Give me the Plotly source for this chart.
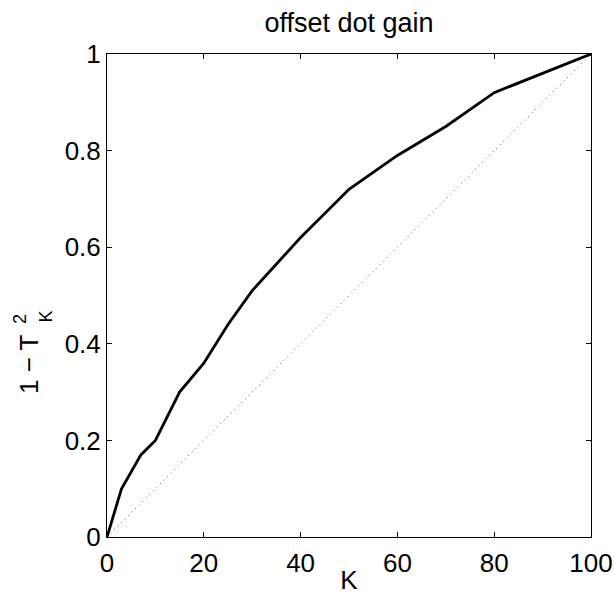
import plotly.graph_objects as go

# data
K = [0, 3, 7, 10, 15, 20, 25, 30, 40, 50, 60, 70, 80, 90, 100]
gain = [0, 0.10, 0.17, 0.20, 0.30, 0.36, 0.44, 0.51, 0.62, 0.72, 0.79, 0.85, 0.92, 0.96, 1.0]
diag_x = [0, 100]
diag_y = [0, 1]
x_ticks = [0, 20, 40, 60, 80, 100]
y_ticks = [0, 0.2, 0.4, 0.6, 0.8, 1]
y_tick_labels = ["0", "0.2", "0.4", "0.6", "0.8", "1"]

FONT = "Liberation Sans, Arial, Helvetica, sans-serif"

fig = go.Figure()
fig.add_trace(go.Scatter(x=diag_x, y=diag_y, mode="lines",
                         line=dict(color="#444444", width=1, dash="1px,4px"),
                         showlegend=False, hoverinfo="skip"))
fig.add_trace(go.Scatter(x=K, y=gain, mode="lines",
                         line=dict(color="black", width=2.8),
                         showlegend=False))

L, R, T, B = 107, 23, 54, 58
fig.update_layout(
    width=614, height=595,
    margin=dict(l=L, r=R, t=T, b=B, pad=0),
    paper_bgcolor="white", plot_bgcolor="white",
    font=dict(family=FONT, color="black", size=26),
    title=dict(text="offset dot gain", x=0.5, xref="paper", xanchor="center",
               y=1 - 23 / 595, yanchor="middle", yref="container",
               font=dict(size=27, family=FONT, color="black")),
    xaxis=dict(range=[0, 100], tickvals=x_ticks, ticks="inside", ticklen=5,
               tickcolor="black", showline=True, linecolor="black", linewidth=1,
               mirror="ticks", showgrid=False, zeroline=False, automargin=False,
               ticklabelstandoff=3,
               tickfont=dict(size=26, family=FONT),
               title=dict(text="K", standoff=4, font=dict(size=26, family=FONT))),
    yaxis=dict(range=[0, 1], tickvals=y_ticks, ticktext=y_tick_labels,
               ticks="inside", ticklen=5, tickcolor="black", showline=True,
               linecolor="black", linewidth=1, mirror="ticks", showgrid=False,
               zeroline=False, automargin=False, tickfont=dict(size=26, family=FONT)),
)

pw = 614 - L - R
ph = 595 - T - B

def px(xp):
    return (xp - L) / pw

def py(yp):
    return (595 - B - yp) / ph

fig.add_annotation(text="1 − T", textangle=-90, xref="paper", yref="paper",
                   x=px(29), y=py(364), xanchor="center", yanchor="middle",
                   showarrow=False, font=dict(size=26, family=FONT))
fig.add_annotation(text="2", textangle=-90, xref="paper", yref="paper",
                   x=px(20), y=py(319), xanchor="center", yanchor="middle",
                   showarrow=False, font=dict(size=18, family=FONT))
fig.add_annotation(text="K", textangle=-90, xref="paper", yref="paper",
                   x=px(45), y=py(316.5), xanchor="center", yanchor="middle",
                   showarrow=False, font=dict(size=18, family=FONT))

fig.write_html("out.html")
